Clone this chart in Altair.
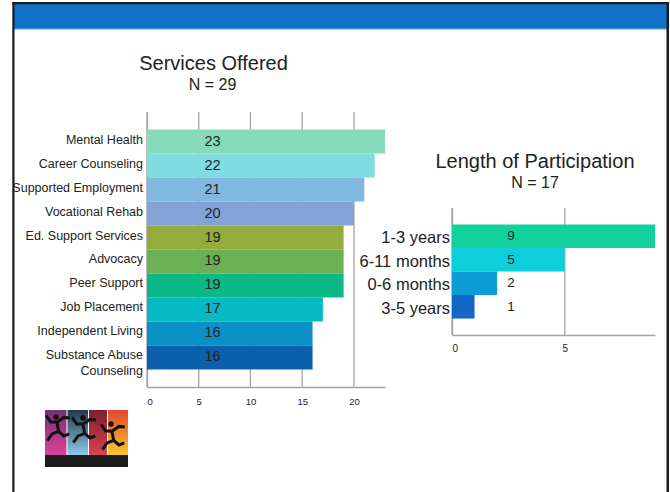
import altair as alt
import pandas as pd

# ---- data ---------------------------------------------------------------
services = [
    "Mental Health", "Career Counseling", "Supported Employment",
    "Vocational Rehab", "Ed. Support Services", "Advocacy", "Peer Support",
    "Job Placement", "Independent Living", "Substance Abuse Counseling",
]
service_counts = [23, 22, 21, 20, 19, 19, 19, 17, 16, 16]
service_colors = [
    "#86dbba", "#80dce0", "#80b8e0", "#84a2d5", "#94ab3d",
    "#6ab153", "#0db887", "#07b9c1", "#0990c4", "#0b5fab",
]
service_ticks = [0, 5, 10, 15, 20]

durations = ["1-3 years", "6-11 months", "0-6 months", "3-5 years"]
duration_counts = [9, 5, 2, 1]
duration_colors = ["#12d19c", "#0ccfd9", "#0d9dd6", "#1166c6"]
duration_ticks = [0, 5]

services_title = "Services Offered"
services_n = "N = 29"
duration_title = "Length of Participation"
duration_n = "N = 17"

FONT = "Liberation Sans"
INK = "#222222"
GRID = "#a3a3a3"
HEADER = "#1170c7"

svc_df = pd.DataFrame({"service": services, "count": service_counts})
dur_df = pd.DataFrame({"duration": durations, "count": duration_counts})
one_row = alt.Data(values=[{"k": 0}])

# pixel extents of the two plot areas on the slide
SVC_X, SVC_Y = [147, 385], [112, 387]
DUR_X, DUR_Y = [452, 655], [208, 335]


def svc_xscale():
    return alt.Scale(domain=[0, 23], range=SVC_X, nice=False, zero=True)


def svc_yscale():
    return alt.Scale(type="band", domain=services, range=SVC_Y,
                     paddingInner=0, paddingOuter=0.73)


def dur_xscale():
    return alt.Scale(domain=[0, 9], range=DUR_X, nice=False, zero=True)


def dur_yscale():
    return alt.Scale(type="band", domain=durations, range=DUR_Y,
                     paddingInner=0, paddingOuter=0.7)


def gridlines(ticks, scale, y_extent):
    return alt.Chart(pd.DataFrame({"tick": ticks})).mark_rule(
        color=GRID, strokeWidth=1.3
    ).encode(
        x=alt.X("tick:Q", scale=scale, axis=None),
        y=alt.value(y_extent[0]), y2=alt.value(y_extent[1]),
    )


# ---- Services Offered ---------------------------------------------------
svc_grid = gridlines(service_ticks, svc_xscale(), SVC_Y)

svc_bars = alt.Chart(svc_df).mark_bar(stroke=None).encode(
    x=alt.X("count:Q", scale=svc_xscale(), axis=alt.Axis(
        values=service_ticks, orient="bottom", offset=-(492 - SVC_Y[1]), title=None,
        grid=False, domainColor=GRID, domainWidth=1.3, ticks=False, tickSize=0,
        labelPadding=9, labelFont=FONT, labelFontSize=9.5, labelColor=INK)),
    y=alt.Y("service:N", sort=services, scale=svc_yscale(), axis=alt.Axis(
        orient="left", offset=-SVC_X[0], title=None, grid=False, ticks=False,
        tickSize=0, domainColor=GRID, domainWidth=1.3, labelPadding=4.5,
        labelFont=FONT, labelFontSize=12.5, labelColor=INK, labelLimit=300,
        labelLineHeight=16, labelOffset=-2,
        labelExpr="datum.label == 'Substance Abuse Counseling' ? "
                  "['Substance Abuse', 'Counseling'] : datum.label")),
    color=alt.Color("service:N", scale=alt.Scale(domain=services, range=service_colors),
                    legend=None),
)

svc_values = alt.Chart(svc_df).mark_text(
    font=FONT, fontSize=14.5, color=INK, align="center", baseline="middle"
).encode(
    x=alt.XDatum(6.33, scale=svc_xscale(), axis=None),
    y=alt.Y("service:N", sort=services, scale=svc_yscale(), axis=None),
    text="count:Q",
)


# ---- Length of Participation -------------------------------------------
dur_grid = gridlines(duration_ticks, dur_xscale(), DUR_Y)

dur_bars = alt.Chart(dur_df).mark_bar(stroke=None).encode(
    x=alt.X("count:Q", scale=dur_xscale(), axis=alt.Axis(
        values=duration_ticks, orient="bottom", offset=-(492 - DUR_Y[1]), title=None,
        grid=False, domainColor=GRID, domainWidth=1.3, ticks=False, tickSize=0,
        labelPadding=8, labelFont=FONT, labelFontSize=10, labelColor=INK)),
    y=alt.Y("duration:N", sort=durations, scale=dur_yscale(), axis=alt.Axis(
        orient="left", offset=-DUR_X[0], title=None, grid=False, ticks=False,
        tickSize=0, domainColor=GRID, domainWidth=1.3, labelPadding=2.5,
        labelOffset=2,
        labelFont=FONT, labelFontSize=16.5, labelColor=INK, labelLimit=300)),
    color=alt.Color("duration:N", scale=alt.Scale(domain=durations, range=duration_colors),
                    legend=None),
)

dur_values = alt.Chart(dur_df).mark_text(
    font=FONT, fontSize=13.5, color=INK, align="center", baseline="middle"
).encode(
    x=alt.XDatum(2.62, scale=dur_xscale(), axis=None),
    y=alt.Y("duration:N", sort=durations, scale=dur_yscale(), axis=None),
    text="count:Q",
)


# ---- slide decoration ---------------------------------------------------
def rect(x, x2, y, y2, fill):
    return alt.Chart(one_row).mark_rect(fill=fill, stroke=None).encode(
        x=alt.value(x), x2=alt.value(x2), y=alt.value(y), y2=alt.value(y2))


def caption(txt, x, y, size):
    return alt.Chart(one_row).mark_text(
        text=txt, font=FONT, fontSize=size, color=INK,
        align="center", baseline="alphabetic",
    ).encode(x=alt.value(x), y=alt.value(y))


def gradient(top, bottom):
    return alt.LinearGradient(
        gradient="linear", x1=0, x2=0, y1=0, y2=1,
        stops=[alt.GradientStop(offset=0, color=top),
               alt.GradientStop(offset=1, color=bottom)])


header = rect(14, 667, 4, 29, HEADER)
header_edge = rect(14, 667, 28, 29.5, "#4a8fd2")
left_mask = rect(0, 12.5, 0, 492, "#ffffff")
frame_left = rect(12.3, 14.5, 2, 492, "#1a1a1a")
frame_top = rect(12.3, 669, 2, 4.3, "#1a1a1a")
frame_right = rect(666.5, 669, 2, 492, "#1a1a1a")

titles = [
    caption(services_title, 213.5, 69.5, 20),
    caption(services_n, 212.5, 90, 16),
    caption(duration_title, 535, 168, 20),
    caption(duration_n, 535, 187.5, 16),
]

# small organisation logo: four coloured stripes with jumping figures
logo = [
    rect(45, 66.5, 410, 458, gradient("#74307a", "#e4439c")),
    rect(67.5, 88, 410, 458, gradient("#22394a", "#93d3f2")),
    rect(89, 107, 410, 458, gradient("#7c1e30", "#e34452")),
    rect(108, 128, 410, 458, gradient("#e4462c", "#f9d12e")),
    rect(45, 128, 455, 467, "#1c1c1c"),
]
jumper = ("M-0.1,-0.5 L0.05,0.25 M-0.9,-0.95 L-0.55,-0.45 L-0.05,-0.45 "
          "L0.45,-0.8 L0.9,-0.75 M0.05,0.25 L-0.45,0.45 L-0.8,0.95 "
          "M0.05,0.25 L0.45,0.6 L0.85,0.45")
figures = alt.Chart(alt.Data(values=[
    {"px": 58, "py": 428}, {"px": 84, "py": 430}, {"px": 113, "py": 437},
])).mark_point(shape=jumper, filled=False, stroke="#111111", strokeWidth=3,
               size=700, opacity=1).encode(
    x=alt.X("px:Q", scale=None), y=alt.Y("py:Q", scale=None))
heads = alt.Chart(alt.Data(values=[
    {"px": 56, "py": 417}, {"px": 83, "py": 418}, {"px": 111, "py": 424},
])).mark_circle(color="#111111", size=30, opacity=1).encode(
    x=alt.X("px:Q", scale=None), y=alt.Y("py:Q", scale=None))

chart = alt.layer(
    svc_grid, svc_bars, svc_values, dur_grid, dur_bars, dur_values,
    header, header_edge, left_mask, frame_left, frame_top, frame_right,
    *titles, *logo, figures, heads,
).resolve_scale(
    x="independent", y="independent", color="independent"
).properties(
    width=670, height=492, padding=0,
    autosize=alt.AutoSizeParams(type="none"),
    background="#ffffff",
).configure_view(stroke=None)

chart.save("out.html", embed_options={"renderer": "svg", "actions": False})
